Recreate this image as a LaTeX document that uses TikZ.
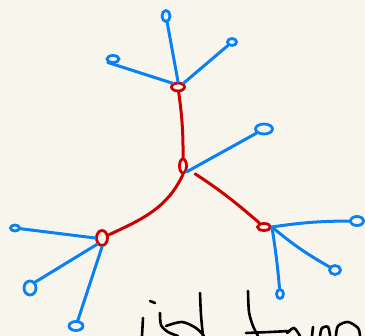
\documentclass[tikz,border=0pt]{standalone}
\usetikzlibrary{shapes.geometric}
\definecolor{paper}{RGB}{248,246,236}
\definecolor{inkred}{RGB}{204,0,0}
\definecolor{inkblue}{RGB}{10,128,245}

\begin{document}
\begin{tikzpicture}[x=1pt, y=-1pt,
  redring/.style={draw=inkred, ellipse, line width=2.8pt, inner sep=0pt},
  bluering/.style={draw=inkblue, ellipse, line width=2.8pt, inner sep=0pt},
  redline/.style={draw=inkred, line width=3pt, line cap=round},
  blueline/.style={draw=inkblue, line width=3pt, line cap=round},
  scrawl/.style={draw=black, line width=2.6pt, line cap=round}]
\fill[paper] (0,0) rectangle (365,336);
\useasboundingbox (0,0) rectangle (365,336);
% red spine
\node[redring, minimum width=13pt, minimum height=8pt] (top) at (178,87) {};
\node[redring, minimum width=7pt, minimum height=14pt] (hub) at (183,166) {};
\node[redring, minimum width=11pt, minimum height=15pt] (left) at (102,238) {};
\node[redring, minimum width=13pt, minimum height=7pt] (right) at (264,227) {};
% blue leaves
\node[bluering, minimum width=8pt, minimum height=11pt] (t1) at (166,16) {};
\node[bluering, minimum width=9pt, minimum height=7pt] (t2) at (232,42) {};
\node[bluering, minimum width=12pt, minimum height=7pt] (t3) at (113,59) {};
\node[bluering, minimum width=17pt, minimum height=10pt] (h1) at (264,129) {};
\node[bluering, minimum width=9pt, minimum height=6pt] (l1) at (15,228) {};
\node[bluering, minimum width=12pt, minimum height=14pt] (l2) at (30,288) {};
\node[bluering, minimum width=14pt, minimum height=9pt] (l3) at (76,326) {};
\node[bluering, minimum width=13pt, minimum height=9pt] (r1) at (357,221) {};
\node[bluering, minimum width=11pt, minimum height=9pt] (r2) at (335,270) {};
\node[bluering, minimum width=7pt, minimum height=9pt] (r3) at (280,294) {};
% edges
\draw[redline] (top) to[bend left=4] (hub);
\draw[redline] (hub.south) to[out=-115, in=25] (left);
\draw[redline, shorten <=9pt] (hub) to[bend left=4] (right);
\draw[blueline] (top.north) -- (t1);
\draw[blueline] (top.north east) -- (t2);
\draw[blueline] (top.north west) -- (t3.south west);
\draw[blueline] (hub.south east) -- (h1);
\draw[blueline] (left.west) -- (l1);
\draw[blueline] (left.south west) -- (l2.north east);
\draw[blueline] (left.south) -- (l3);
\draw[blueline] (right.east) to[bend left=4] (r1);
\draw[blueline] (right.east) to[bend right=5] (r2);
\draw[blueline] (right.east) to[bend left=2] (r3);
% handwriting at the bottom edge
\draw[scrawl] (150,301) -- (155,303);
\draw[scrawl] (143,318) -- (142,336);
\draw[scrawl] plot[smooth] coordinates {(160,313) (161,325) (168,332) (178,336)};
\draw[scrawl] plot[smooth] coordinates {(166,326) (182,322) (196,328) (204,336)};
\draw[scrawl] plot[smooth] coordinates {(200,293) (201,315) (203,336)};
\draw[scrawl] plot[smooth] coordinates {(248,291) (249,312) (253,326) (258,336)};
\draw[scrawl] plot[smooth] coordinates {(246,333) (270,332) (290,331)};
\draw[scrawl] plot[smooth] coordinates {(287,333) (294,328) (300,336)};
\draw[scrawl] (313,327) -- (312,336);
\draw[scrawl] plot[smooth] coordinates {(320,336) (322,328) (328,327) (330,336)};
\draw[scrawl] plot[smooth] coordinates {(336,336) (338,326) (348,322) (358,328) (360,336)};
\end{tikzpicture}
\end{document}
